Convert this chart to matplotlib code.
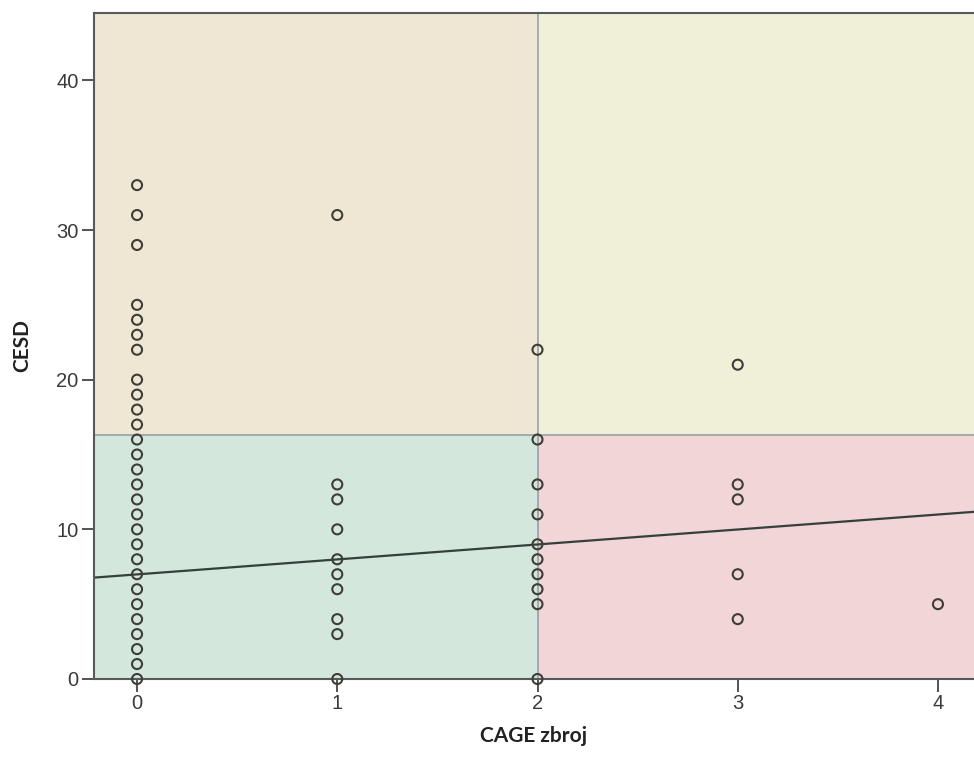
import matplotlib
matplotlib.use("Agg")
import matplotlib.pyplot as plt

# CAGE zbroj -> CESD vrijednosti po stupcu
cage_0 = [0, 1, 2, 3, 4, 5, 6, 7, 8, 9, 10, 11, 12, 13, 14, 15, 16, 17, 18, 19, 20,
          22, 23, 24, 25, 29, 31, 33]
cage_1 = [0, 3, 4, 6, 7, 8, 10, 12, 13, 31]
cage_2 = [0, 5, 6, 7, 8, 9, 11, 13, 16, 22]
cage_3 = [4, 7, 12, 13, 21]
cage_4 = [5]

cesd_cols = [cage_0, cage_1, cage_2, cage_3, cage_4]

x_ticks = [0, 1, 2, 3, 4]
y_ticks = [0, 10, 20, 30, 40]

# granice kvadranata i pravac regresije (ocitano sa slike)
cage_cut = 2
cesd_cut = 16.3
fit_intercept = 6.99
fit_slope = 1.0

xlim = (-0.215, 4.18)
ylim = (0, 44.5)

plt.rcParams['font.family'] = ['Liberation Sans', 'DejaVu Sans']

fig = plt.figure(figsize=(9.74, 7.60), dpi=100)
ax = fig.add_axes([94 / 974, 81 / 760, 880 / 974, 666 / 760])
ax.set_xlim(*xlim)
ax.set_ylim(*ylim)

# pozadina kvadranata
ax.fill_between([xlim[0], cage_cut], cesd_cut, ylim[1], color='#efe7d3', lw=0, zorder=0)
ax.fill_between([cage_cut, xlim[1]], cesd_cut, ylim[1], color='#f0f0d8', lw=0, zorder=0)
ax.fill_between([xlim[0], cage_cut], ylim[0], cesd_cut, color='#d4e7dd', lw=0, zorder=0)
ax.fill_between([cage_cut, xlim[1]], ylim[0], cesd_cut, color='#f1d5d7', lw=0, zorder=0)

ax.axvline(cage_cut, color='#8c9ca4', lw=1.1, zorder=1)
ax.axhline(cesd_cut, color='#8c9ca4', lw=1.1, zorder=1)

# tocke
for xv, col in zip(x_ticks, cesd_cols):
    ax.scatter([xv] * len(col), col, s=52, facecolors='none',
               edgecolors='#3d3e36', linewidths=1.5, zorder=3, clip_on=False)

# pravac regresije
ax.plot(list(xlim), [fit_intercept + fit_slope * v for v in xlim],
        color='#36403a', lw=1.6, zorder=2)

ax.set_xticks(x_ticks)
ax.set_yticks(y_ticks)
ax.tick_params(direction='out', length=9, width=1.3, color='#444444',
               labelsize=14.5, labelcolor='#3a3a3a', pad=2)

ax.spines['right'].set_visible(False)
for s in ['left', 'bottom', 'top']:
    ax.spines[s].set_color('#555a5c')
    ax.spines[s].set_linewidth(1.5)

ax.set_xlabel('CAGE zbroj', fontsize=15, fontweight='bold', family=['Lato', 'DejaVu Sans'],
              color='#222222', labelpad=9)
ax.set_ylabel('CESD', fontsize=15, fontweight='bold', family=['Lato', 'DejaVu Sans'],
              color='#222222', labelpad=17)

fig.savefig('out.png', dpi=100)
